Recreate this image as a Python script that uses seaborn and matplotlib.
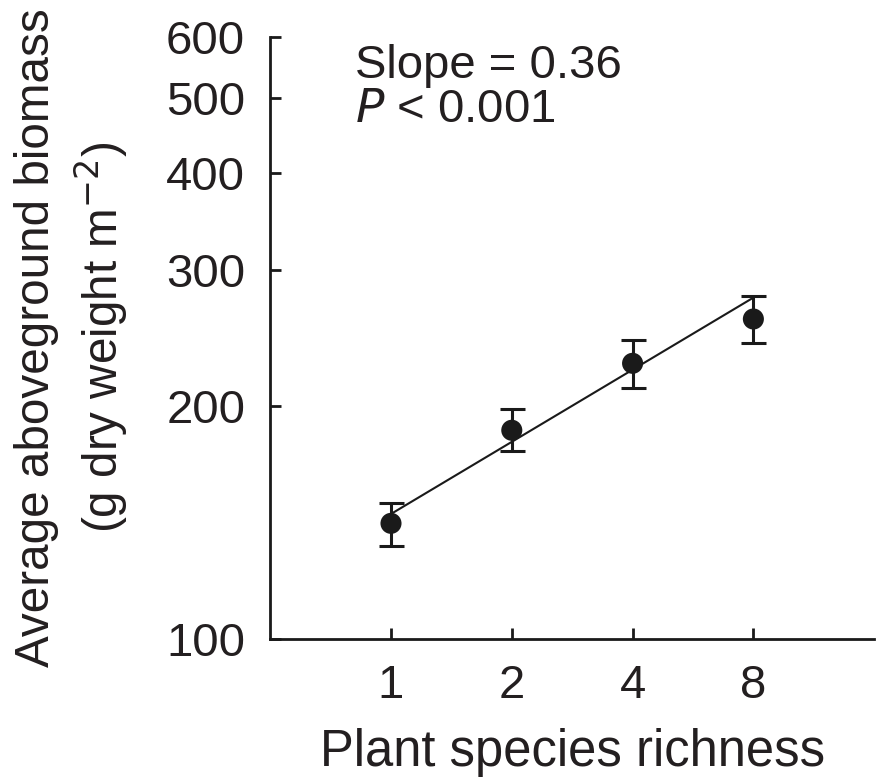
import numpy as np
import pandas as pd
import matplotlib
matplotlib.use('Agg')
import matplotlib.pyplot as plt
import seaborn as sns
from matplotlib.ticker import FixedLocator, NullLocator

richness = [1, 2, 4, 8]
biomass = [141, 186, 227, 259]
err_low = [132, 175, 211, 241]
err_high = [150, 198, 243, 277]
fit_x = [1, 8]
fit_y = [145, 276]
y_ticks = [100, 200, 300, 400, 500, 600]

sns.set_theme(style='ticks')
plt.rcParams['font.family'] = ['Liberation Sans', 'DejaVu Sans']
txt = '#231f20'

df = pd.DataFrame({'richness': richness, 'biomass': biomass})
fig = plt.figure(figsize=(8.83, 7.8), dpi=100)
ax = fig.add_axes([0.306, 0.181, 0.684, 0.772])

ax.set_xscale('log', base=2)
ax.set_yscale('log')

yerr = [np.array(biomass) - np.array(err_low), np.array(err_high) - np.array(biomass)]
ax.errorbar(richness, biomass, yerr=yerr, fmt='none', ecolor='#1a1a1a',
            elinewidth=2.2, capsize=9, capthick=2.2, zorder=2)
sns.lineplot(x=fit_x, y=fit_y, ax=ax, color='#1a1a1a', linewidth=1.5, zorder=3)
sns.scatterplot(data=df, x='richness', y='biomass', ax=ax, s=230, color='#1a1a1a',
                edgecolor='none', zorder=4)

ax.set_xlim(0.5, 16)
ax.set_ylim(100, 600)
ax.xaxis.set_major_locator(FixedLocator(richness))
ax.xaxis.set_minor_locator(NullLocator())
ax.set_xticklabels([str(r) for r in richness])
ax.yaxis.set_major_locator(FixedLocator(y_ticks))
ax.yaxis.set_minor_locator(NullLocator())
ax.set_yticklabels([str(t) for t in y_ticks])

for s in ['top', 'right']:
    ax.spines[s].set_visible(False)
for s in ['left', 'bottom']:
    ax.spines[s].set_linewidth(2.0)
    ax.spines[s].set_color('#1a1a1a')
ax.tick_params(direction='in', length=8, width=2.0, color='#1a1a1a',
               labelsize=34, labelcolor=txt)
ax.tick_params(axis='y', pad=18)
ax.tick_params(axis='x', pad=18)

ax.set_xlabel('Plant species richness', fontsize=36.5, color=txt)
ax.xaxis.set_label_coords(0.5, -0.148)
ax.set_ylabel('Average aboveground biomass\n(g dry weight m$^{-2}$)', fontsize=34.3,
              color=txt, linespacing=1.3)
ax.yaxis.set_label_coords(-0.232, 0.5)

ax.text(0.141, 0.932, 'Slope = 0.36', transform=ax.transAxes, fontsize=34, color=txt,
        va='baseline')
ax.text(0.141, 0.859, '$P$ < 0.001', transform=ax.transAxes, fontsize=34, color=txt,
        va='baseline')

fig.savefig('out.png', dpi=100)
